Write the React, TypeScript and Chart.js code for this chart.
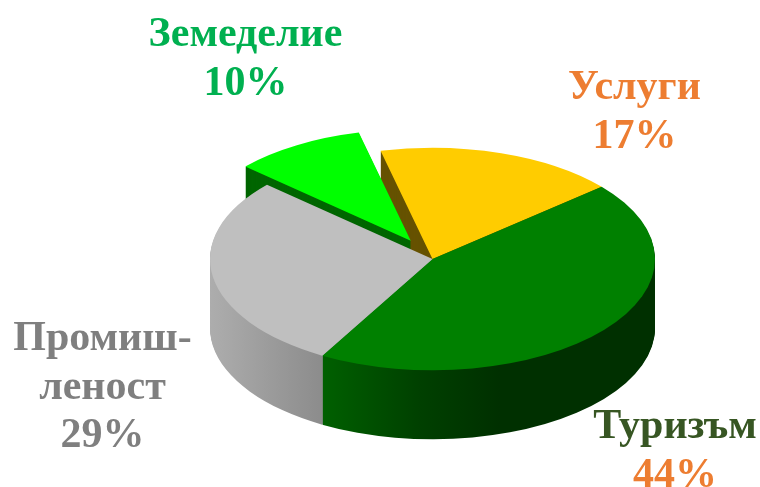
import React, { useEffect, useRef } from "react";
import { Chart, registerables } from "chart.js";

Chart.register(...registerables);

const categories = ["Услуги", "Туризъм", "Промиш-\nленост", "Земеделие"];
const sliceValues = [17.5, 44.5, 28.4, 9.6];
const shareLabels = ["17%", "44%", "29%", "10%"];
const topColors = ["#FFCC00", "#008000", "#BFBFBF", "#00FF00"];
const explosion = [0, 0, 0, 42.5];
const nameColors = ["#ED7D31", "#375623", "#7F7F7F", "#00B050"];
const shareColors = ["#ED7D31", "#ED7D31", "#7F7F7F", "#00B050"];
const labelCenters = [634.5, 675, 102.5, 245.5];
const labelBaselines = [99, 438, 350, 46];

const TILT = 0.5;
const DEPTH = 69;
const LINE = 48.5;

function tilt(ctx: CanvasRenderingContext2D, chart: any, dy: number) {
  const cx = (chart.chartArea.left + chart.chartArea.right) / 2;
  const cy = (chart.chartArea.top + chart.chartArea.bottom) / 2;
  ctx.translate(cx, cy + dy);
  ctx.scale(1, TILT);
  ctx.translate(-cx, -cy);
}

function wallFills(ctx: CanvasRenderingContext2D) {
  const green = ctx.createLinearGradient(322, 0, 500, 0);
  green.addColorStop(0, "#006000");
  green.addColorStop(0.55, "#004000");
  green.addColorStop(1, "#003000");
  const grey = ctx.createLinearGradient(210, 0, 322, 0);
  grey.addColorStop(0, "#ADADAD");
  grey.addColorStop(1, "#8C8C8C");
  return ["#665200", green, grey, "#006600"];
}

const pie3d = {
  id: "pie3d",
  afterDatasetsUpdate(chart: any) {
    chart.getDatasetMeta(0).data.forEach((arc: any, i: number) => {
      const mid = (arc.startAngle + arc.endAngle) / 2;
      arc.x += Math.cos(mid) * explosion[i];
      arc.y += Math.sin(mid) * explosion[i];
    });
  },
  beforeDatasetsDraw(chart: any) {
    const ctx = chart.ctx;
    const fills = wallFills(ctx);
    const arcs = chart.getDatasetMeta(0).data;
    for (let dy = DEPTH; dy >= 1; dy--) {
      ctx.save();
      tilt(ctx, chart, dy);
      arcs.forEach((arc: any, i: number) => {
        const saved = arc.options;
        arc.options = {
          backgroundColor: fills[i],
          borderWidth: 0,
          borderColor: "transparent",
          borderRadius: 0,
          spacing: 0,
          offset: 0,
          circular: true,
          borderAlign: "center",
        };
        arc.draw(ctx);
        arc.options = saved;
      });
      ctx.restore();
    }
  },
  beforeDatasetDraw(chart: any) {
    chart.ctx.save();
    tilt(chart.ctx, chart, 0);
  },
  afterDatasetDraw(chart: any) {
    chart.ctx.restore();
  },
  afterDraw(chart: any) {
    const ctx = chart.ctx;
    ctx.save();
    ctx.font = 'bold 42px "Liberation Serif"';
    ctx.textAlign = "center";
    ctx.textBaseline = "alphabetic";
    categories.forEach((name, i) => {
      const lines = name.split("\n");
      let y = labelBaselines[i];
      ctx.fillStyle = nameColors[i];
      lines.forEach((line) => {
        ctx.fillText(line, labelCenters[i], y);
        y += LINE;
      });
      ctx.fillStyle = shareColors[i];
      ctx.fillText(shareLabels[i], labelCenters[i], y);
    });
    ctx.restore();
  },
};

export default function App() {
  const ref = useRef<HTMLCanvasElement>(null);
  useEffect(() => {
    const chart = new Chart(ref.current!, {
      type: "pie",
      plugins: [pie3d],
      data: {
        labels: categories,
        datasets: [
          {
            data: sliceValues,
            backgroundColor: topColors,
            borderWidth: 0,
            radius: 222.5,
            clip: false,
          } as any,
        ],
      },
      options: {
        animation: false,
        responsive: false,
        events: [],
        rotation: -13.5,
        layout: { padding: { left: 105, top: 31 } },
        plugins: { legend: { display: false }, tooltip: { enabled: false } },
      },
    });
    return () => chart.destroy();
  }, []);
  return (
    <canvas
      ref={ref}
      width={760}
      height={487}
      style={{ position: "fixed", left: 0, top: 0, width: 760, height: 487 }}
    />
  );
}
